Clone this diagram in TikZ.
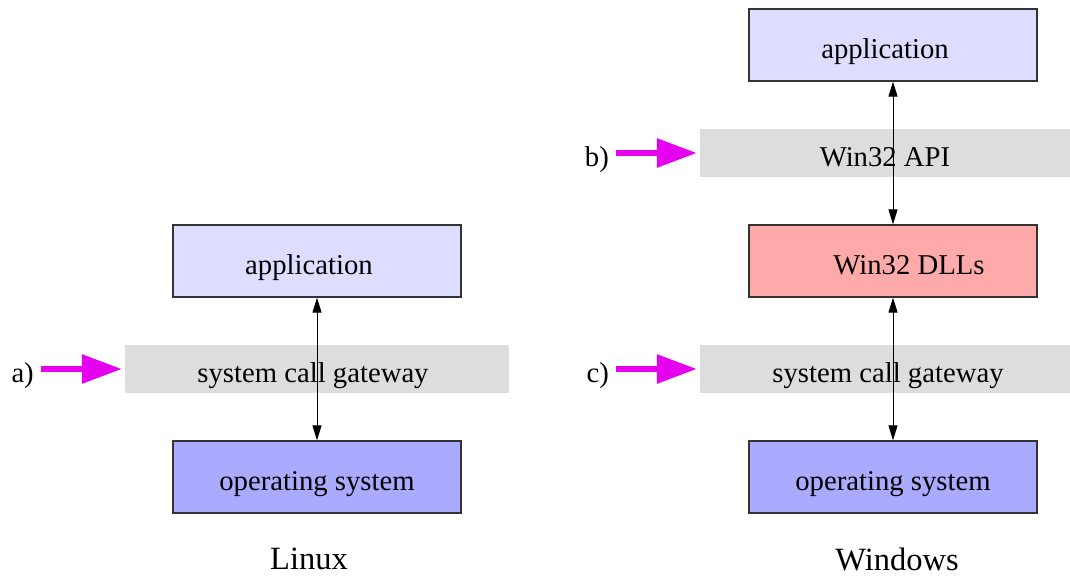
\documentclass[tikz,border=0pt]{standalone}
\usepackage{fontspec}
\setmainfont{Liberation Serif}
\usetikzlibrary{arrows.meta}
\definecolor{appc}{HTML}{DDDDFF}
\definecolor{osc}{HTML}{AAAAFF}
\definecolor{dllc}{HTML}{FFAAAA}
\definecolor{bandc}{HTML}{DDDDDD}
\definecolor{magc}{HTML}{E600F0}
\definecolor{edgec}{HTML}{333333}
\newcommand{\lft}[2]{\hspace*{-#1pt}#2}
\newcommand{\rgt}[2]{#2\hspace*{-#1pt}}
\begin{document}
\begin{tikzpicture}[x=1pt,y=-1pt,
  font=\fontsize{28.7}{34}\selectfont,
  layerbox/.style={draw=edgec,line width=1.3pt,minimum width=288pt,minimum height=72pt,inner sep=0pt,text height=27pt,text depth=0pt},
  band/.style={fill=bandc,minimum height=48pt,inner sep=0pt,text height=27pt,text depth=0pt},
  tag/.style={anchor=east,inner sep=0pt,text height=27pt,text depth=0pt},
  link/.style={line width=1pt,{Triangle[width=9pt,length=15pt]}-{Triangle[width=9pt,length=15pt]}},
  pointer/.style={draw=magc,line width=6pt,-{Triangle[width=28pt,length=40pt]},shorten >=3pt,shorten <=7pt},
  caption/.style={font=\fontsize{32.5}{38}\selectfont}
]
\useasboundingbox (0,0) rectangle (1070,576);
% Linux
\node[layerbox,fill=appc] (lapp) at (317,261) {\lft{16}{application}};
\node[band,minimum width=384pt] (lgw) at (317,369) {\lft{8}{system call gateway}};
\node[layerbox,fill=osc] (los) at (317,477) {operating system};
\draw[link] (lapp.south) -- (los.north);
\node[tag] (la) at (34,369) {a)};
\draw[pointer] (la.east) -- (lgw.west);
\node[caption] (linux) at (309,559) {Linux};
% Windows
\node[layerbox,fill=appc] (wapp) at (893,45) {\lft{16}{application}};
\node[band,minimum width=370pt] (wapi) at (885,153) {Win32 API};
\node[layerbox,fill=dllc] (wdll) at (893,261) {\rgt{32}{Win32 DLLs}};
\node[band,minimum width=370pt] (wgw) at (885,369) {\rgt{6}{system call gateway}};
\node[layerbox,fill=osc] (wos) at (893,477) {operating system};
\draw[link] (wapp.south) -- (wdll.north);
\draw[link] (wdll.south) -- (wos.north);
\node[tag] (lb) at (609,153) {b)};
\draw[pointer] (lb.east) -- (wapi.west);
\node[tag] (lc) at (609,369) {c)};
\draw[pointer] (lc.east) -- (wgw.west);
\node[caption] (windows) at (897,559) {Windows};
\end{tikzpicture}
\end{document}
